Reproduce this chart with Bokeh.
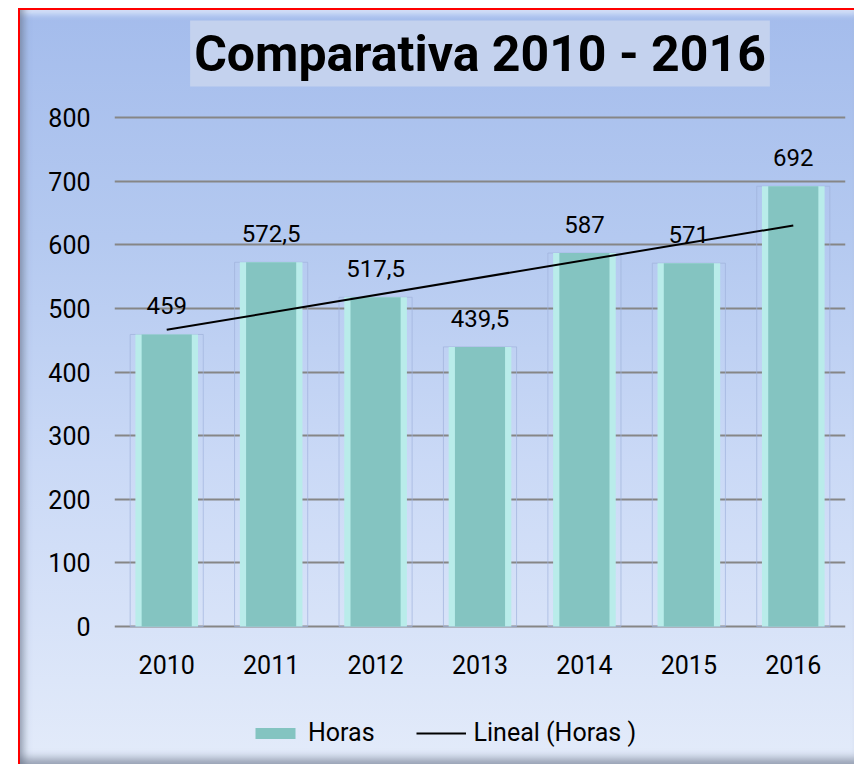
import numpy as np
from bokeh.plotting import figure
from bokeh.models import (ColumnDataSource, LabelSet, Label, Legend, LegendItem,
                          Range1d, FactorRange, FixedTicker)
from bokeh.core.properties import value
from bokeh.embed import file_html
from bokeh.resources import INLINE

# ---- data ----
years = ["2010", "2011", "2012", "2013", "2014", "2015", "2016"]
horas = [459, 572.5, 517.5, 439.5, 587, 571, 692]
y_ticks = [0, 100, 200, 300, 400, 500, 600, 700, 800]
title_text = "Comparativa 2010 - 2016"
series_name = "Horas"
trend_name = "Lineal (Horas )"

labels = [f"{v:g}".replace(".", ",") for v in horas]

# linear trend (least squares) of the series
xi = np.arange(len(horas))
slope, intercept = np.polyfit(xi, horas, 1)
trend_y = [intercept, intercept + slope * xi[-1]]
trend_x = [years[0], years[-1]]

src = ColumnDataSource(dict(x=years, y=horas, lab=labels))

FONT = "Roboto"

p = figure(x_range=FactorRange(*years), y_range=Range1d(-215.3, 968.2),
           width=836, height=756, output_backend="svg", toolbar_location=None,
           min_border_left=94, min_border_right=11, min_border_top=0,
           min_border_bottom=3,
           background_fill_alpha=0, border_fill_alpha=0,
           outline_line_color=None)

p.styles = {
    "margin-left": "18px",
    "margin-top": "8px",
    "border-left": "2px solid #ff0000",
    "border-top": "2px solid #ff0000",
    "background": "linear-gradient(to bottom, #a4bcec 0%, #b4c9f0 30%, #cad9f6 60%, #e3ebfa 100%)",
    "box-shadow": "inset 9px 0 7px -5px rgba(95,105,125,0.55), inset 0 -12px 8px -6px rgba(95,105,125,0.55), inset 0 9px 6px -5px rgba(235,242,255,0.8)",
}

# title (as a boxed label centred over the plot area)
p.add_layout(Label(x=3.5, y=900.6, text=title_text,
                   text_align="center", text_baseline="middle",
                   text_font="Roboto", text_font_style="bold",
                   text_font_size="50px", text_color="#000000",
                   background_fill_color="#c4d2ee", padding=4))

# grid & axes
p.xgrid.grid_line_color = None
p.ygrid.ticker = FixedTicker(ticks=y_ticks)
p.ygrid.grid_line_color = "#868686"
p.ygrid.grid_line_width = 2

p.yaxis.ticker = FixedTicker(ticks=y_ticks)
p.xaxis.fixed_location = 0
for ax in (p.xaxis[0], p.yaxis[0]):
    ax.axis_line_color = None
    ax.major_tick_line_color = None
    ax.minor_tick_line_color = None
    ax.major_tick_out = 0
    ax.major_tick_in = 0
    ax.major_label_text_font = FONT
    ax.major_label_text_font_size = "25px"
    ax.major_label_text_color = "#000000"
p.yaxis.major_label_standoff = 24
p.xaxis.major_label_standoff = 28

# bars: faint outline, light glossy body, teal core
p.vbar(x="x", top="y", source=src, width=0.70, bottom=0,
       fill_color=None, line_color="#9fb2dc", line_alpha=0.7, line_width=1)
p.vbar(x="x", top="y", source=src, width=0.60, bottom=0,
       fill_color="#b9ecea", line_color=None)
core = p.vbar(x="x", top="y", source=src, width=0.48, bottom=0,
              fill_color="#84c4c1", line_color=None)

# trend line
trend = p.line(x=trend_x, y=trend_y, line_color="#000000", line_width=2)

# data labels
p.add_layout(LabelSet(x="x", y="y", text="lab", source=src,
                      text_align="center", text_baseline="alphabetic",
                      y_offset=20, text_font=value(FONT),
                      text_font_size=value("24px"), text_color="#000000"))

legend = Legend(items=[LegendItem(label=series_name, renderers=[core]),
                       LegendItem(label=trend_name, renderers=[trend])],
                orientation="horizontal", location=(136, 16),
                background_fill_alpha=0, border_line_color=None,
                label_text_font=FONT, label_text_font_size="25px",
                label_text_color="#000000",
                glyph_width=50, glyph_height=14, label_standoff=8,
                spacing=41, padding=0, margin=0)
p.add_layout(legend, "center")

open("out.html", "w").write(file_html(p, INLINE))
